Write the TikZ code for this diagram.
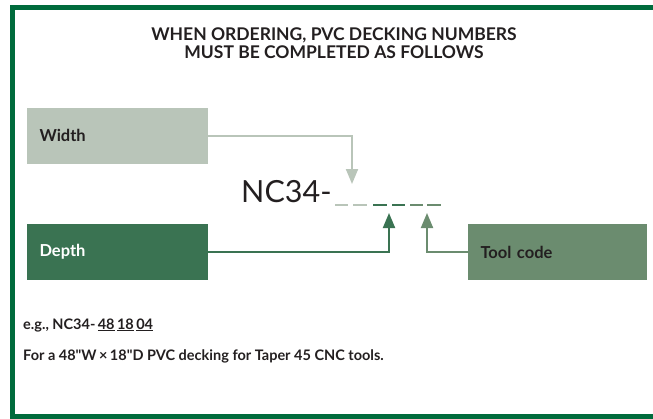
\documentclass[tikz,border=0pt]{standalone}
\usepackage{fontspec}
\setmainfont{Lato}
\newfontfamily\rawlato{Lato}
\newcommand{\inch}{{\rawlato"}}
\usetikzlibrary{arrows.meta}
\definecolor{frame}{HTML}{006B3C}
\definecolor{palegreen}{HTML}{B9C5B9}
\definecolor{deepgreen}{HTML}{3A7352}
\definecolor{sagegreen}{HTML}{6B8C6F}
\definecolor{ink}{HTML}{231F20}
\begin{document}
\begin{tikzpicture}[x=1pt,y=-1pt,
	box/.style={rectangle, minimum height=56pt, inner xsep=12.5pt,
		align=left, font=\fontsize{16.5}{18}\selectfont\bfseries},
	feed/.style={line width=2pt, -{Triangle[length=15pt,width=12pt]}}]
	\useasboundingbox (0,0) rectangle (653,418);
	\draw[frame, line width=5pt] (653,7.5) -- (12,7.5) -- (12,416) -- (653,416);
	% heading
	\node[ink, anchor=base, align=center, font=\fontsize{17.5}{18}\selectfont\bfseries]
		(title) at (334,58) {WHEN ORDERING, PVC DECKING NUMBERS\\MUST BE COMPLETED AS FOLLOWS};
	% the three fields
	\node[box, fill=palegreen, text=ink, text width=156pt] (width) at (117.5,135.5) {Width};
	\node[box, fill=deepgreen, text=white, text width=156pt] (depth) at (117.5,252) {Depth};
	\node[box, fill=sagegreen, text=ink, text width=154pt] (tool) at (557.5,252) {Tool code};
	% part number
	\node[ink, anchor=base west, inner sep=0pt, font=\fontsize{30.5}{32}\selectfont]
		(code) at (241,202) {NC34-};
	\foreach \a/\b/\c in {335/348/palegreen, 353/367/palegreen, 373/387/deepgreen,
		392/405/deepgreen, 410/423/sagegreen, 427/441/sagegreen}
	\draw[\c, line width=2pt] (\a,205) -- (\b,205);
	\coordinate (wtip) at (352,184);
	\coordinate (dtip) at (389,213);
	\coordinate (ttip) at (427,213);
	\draw[feed, palegreen] (width.east) -| (wtip);
	\draw[feed, deepgreen] (depth.east) -| (dtip);
	\draw[feed, sagegreen] (tool.west) -| (ttip);
	% example
	\node[ink, anchor=base west, inner sep=0pt, font=\fontsize{14.5}{16}\selectfont\bfseries]
		(eg) at (23,329) {e.g., NC34-\,\underline{48}\,\underline{18}\,\underline{04}};
	\node[ink, anchor=base west, inner sep=0pt, font=\fontsize{14.5}{16}\selectfont\bfseries]
		(note) at (23,360) {For a 48\inch W\,×\,18\inch D PVC decking for Taper 45 CNC tools.};
\end{tikzpicture}
\end{document}
